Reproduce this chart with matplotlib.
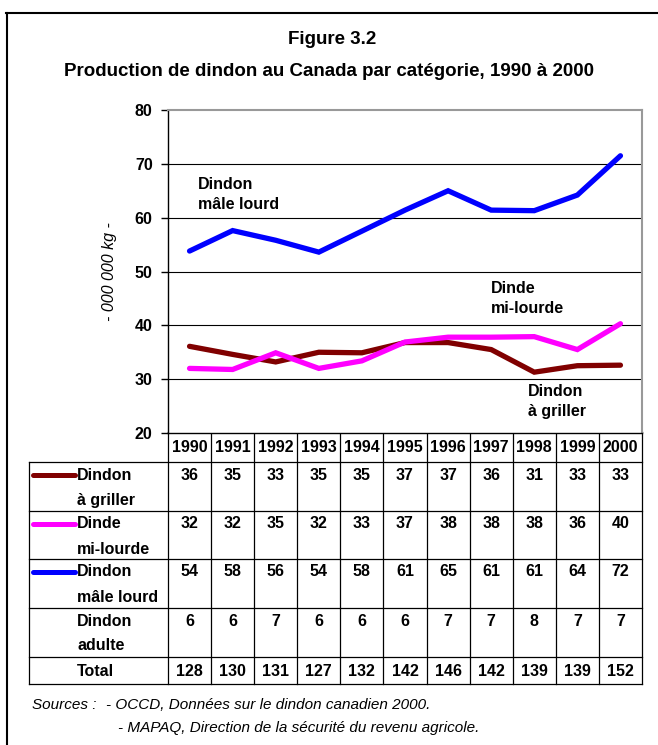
import matplotlib
matplotlib.use("Agg")
import matplotlib.pyplot as plt
import numpy as np

# ---------------- data ----------------
years = ["1990", "1991", "1992", "1993", "1994", "1995", "1996", "1997", "1998", "1999", "2000"]
griller_line = [36.1, 34.6, 33.2, 35.0, 34.9, 36.8, 36.8, 35.5, 31.3, 32.5, 32.6]
milourde_line = [32.0, 31.8, 34.9, 32.0, 33.4, 36.9, 37.8, 37.8, 37.9, 35.5, 40.3]
male_line = [53.8, 57.6, 55.8, 53.6, 57.5, 61.4, 65.0, 61.4, 61.3, 64.2, 71.5]

griller_tab = [36, 35, 33, 35, 35, 37, 37, 36, 31, 33, 33]
milourde_tab = [32, 32, 35, 32, 33, 37, 38, 38, 38, 36, 40]
male_tab = [54, 58, 56, 54, 58, 61, 65, 61, 61, 64, 72]
adulte_tab = [6, 6, 7, 6, 6, 6, 7, 7, 8, 7, 7]
total_tab = [128, 130, 131, 127, 132, 142, 146, 142, 139, 139, 152]

row_labels = ["Dindon\nà griller", "Dinde\nmi-lourde", "Dindon\nmâle lourd", "Dindon\nadulte", "Total"]
row_colors = ["#800000", "#FF00FF", "#0000FF", None, None]
yticks = [20, 30, 40, 50, 60, 70, 80]

title1 = "Figure 3.2"
title2 = "Production de dindon au Canada par catégorie, 1990 à 2000"
ylabel = "- 000 000 kg -"
src_head = "Sources :"
src1 = "- OCCD, Données sur le dindon canadien 2000."
src2 = "- MAPAQ, Direction de la sécurité du revenu agricole."

# ---------------- figure ----------------
plt.rcParams['font.family'] = ['Liberation Sans', 'DejaVu Sans']
W, H = 658, 745
fig = plt.figure(figsize=(W / 100, H / 100), dpi=100)

tax = fig.add_axes([0, 0, 1, 1])
tax.set_xlim(0, W)
tax.set_ylim(H, 0)
tax.axis("off")

L, R, T, B = 168, 642, 110, 433
ax = fig.add_axes([L / W, 1 - B / H, (R - L) / W, (B - T) / H])
n = len(years)
x = np.arange(n)
ax.set_xlim(-0.5, n - 0.5)
ax.set_ylim(20, 80)
ax.set_yticks(yticks)
ax.set_yticklabels([str(v) for v in yticks], fontsize=11.5, fontweight="bold")
ax.set_xticks([])
for v in yticks[1:-1]:
    ax.axhline(v, color="black", lw=0.8, zorder=1)
ax.spines["top"].set_color("#999999")
ax.spines["top"].set_linewidth(1.5)
ax.spines["right"].set_color("#999999")
ax.spines["right"].set_linewidth(1.5)
ax.spines["left"].set_color("black")
ax.spines["left"].set_linewidth(1.0)
ax.spines["bottom"].set_color("black")
ax.spines["bottom"].set_linewidth(1.0)
ax.tick_params(axis="y", length=5, width=1, color="black", pad=6)
ax.set_ylabel(ylabel, fontsize=11.5, style="italic", labelpad=13)

lw = 3.8
ax.plot(x, griller_line, color="#800000", lw=lw, solid_capstyle="round", solid_joinstyle="miter", zorder=3)
ax.plot(x, milourde_line, color="#FF00FF", lw=lw, solid_capstyle="round", solid_joinstyle="miter", zorder=3)
ax.plot(x, male_line, color="#0000FF", lw=lw, solid_capstyle="round", solid_joinstyle="miter", zorder=3)

ax.text(0.2, 67.6, "Dindon\nmâle lourd", fontsize=11.5, fontweight="bold", va="top", ha="left", linespacing=1.45)
ax.text(7.0, 48.3, "Dinde\nmi-lourde", fontsize=11.5, fontweight="bold", va="top", ha="left", linespacing=1.45)
ax.text(7.85, 29.1, "Dindon\nà griller", fontsize=11.5, fontweight="bold", va="top", ha="left", linespacing=1.45)

tax.text(W / 2 + 3, 40, title1, ha="center", va="center", fontsize=13.5, fontweight="bold")
tax.text(W / 2 + 0, 72, title2, ha="center", va="center", fontsize=13.5, fontweight="bold")

tax.plot([6, W], [13, 13], color="black", lw=1.5)
tax.plot([7, 7], [13, H], color="black", lw=1.5)

# ---------------- table ----------------
cw = (R - L) / n
col_edges = [L + i * cw for i in range(n + 1)]
header_top, header_bot = 432, 462
row_edges = [462, 511, 559, 608, 657, 684]
tab_left = 29
lc = "black"
tlw = 0.9
fs = 11.5

tax.plot([L, R], [header_top, header_top], color=lc, lw=tlw)
for xe in col_edges:
    tax.plot([xe, xe], [header_top, row_edges[-1]], color=lc, lw=tlw)
for i, yr in enumerate(years):
    tax.text((col_edges[i] + col_edges[i + 1]) / 2, (header_top + header_bot) / 2 + 1, yr,
             ha="center", va="center", fontsize=fs, fontweight="bold")

for ye in row_edges:
    tax.plot([tab_left, R], [ye, ye], color=lc, lw=tlw)
tax.plot([tab_left, tab_left], [row_edges[0], row_edges[-1]], color=lc, lw=tlw)

table_vals = [griller_tab, milourde_tab, male_tab, adulte_tab, total_tab]
for r, vals in enumerate(table_vals):
    top = row_edges[r]
    bot = row_edges[r + 1]
    yc = top + 13 if r < 4 else (top + bot) / 2 + 1
    for i, v in enumerate(vals):
        tax.text((col_edges[i] + col_edges[i + 1]) / 2, yc, str(v),
                 ha="center", va="center", fontsize=fs, fontweight="bold")
    lab = row_labels[r].split("\n")
    tax.text(77, yc, lab[0], ha="left", va="center", fontsize=fs, fontweight="bold")
    if len(lab) > 1:
        tax.text(77, yc + 25, lab[1], ha="left", va="center", fontsize=fs, fontweight="bold")
    if row_colors[r] is not None:
        tax.plot([33, 75], [yc, yc], color=row_colors[r], lw=3.6, solid_capstyle="round")

tax.text(32, 705, src_head, ha="left", va="center", fontsize=11, style="italic")
tax.text(106, 705, src1, ha="left", va="center", fontsize=11, style="italic")
tax.text(118, 728, src2, ha="left", va="center", fontsize=11, style="italic")

fig.savefig("out.png", dpi=100)
